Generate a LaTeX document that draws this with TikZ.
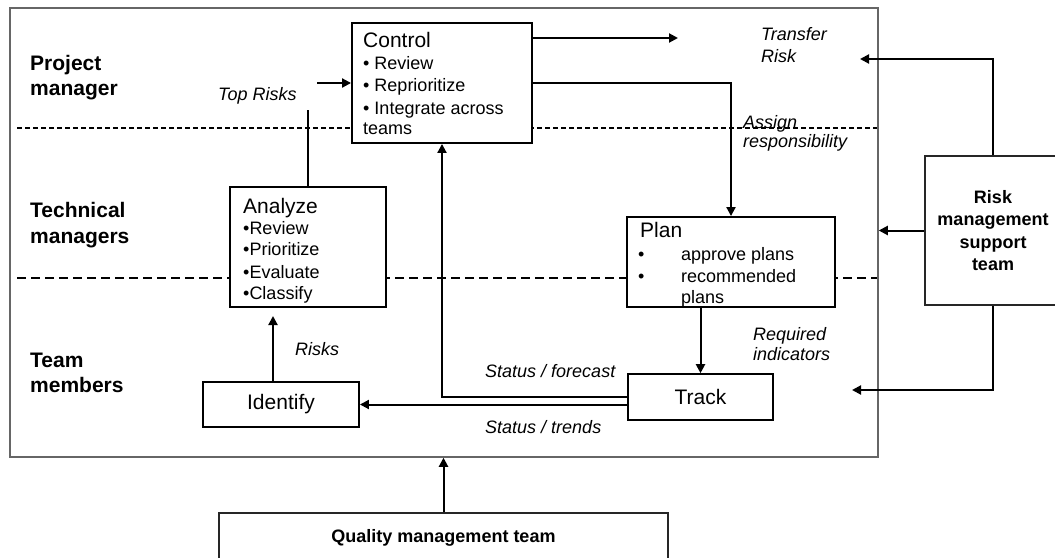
\documentclass[tikz,border=0pt]{standalone}
\usepackage{fontspec}
\setmainfont{Liberation Sans}
\usetikzlibrary{arrows.meta,calc}
\begin{document}
\begin{tikzpicture}[x=1pt,y=-1pt,
  box/.style={draw, line width=1.9pt, fill=white, inner sep=0pt},
  team/.style={draw=black!85, line width=1.2pt, fill=white, inner sep=0pt, font=\fontsize{18}{22.3}\selectfont\bfseries, align=center},
  txt/.style={anchor=base west, inner sep=0pt},
  ttl/.style={txt, font=\fontsize{21}{25}\selectfont},
  itm/.style={txt, font=\fontsize{18}{22}\selectfont},
  lbl/.style={txt, font=\fontsize{18}{22}\selectfont\itshape},
  lane/.style={txt, font=\fontsize{21}{26}\selectfont\bfseries},
  conn/.style={line width=2pt, -{Triangle[length=9pt,width=9pt]}},
  plainline/.style={line width=2pt},
  sep1/.style={line width=1.5pt, dash pattern=on 5pt off 3pt},
  sep2/.style={line width=1.5pt, dash pattern=on 9pt off 5pt},
  ]
\useasboundingbox (0,0) rectangle (1055,557);
% main frame
\node[draw=black!60, line width=1.5pt, minimum width=868pt, minimum height=449pt, inner sep=0pt] (main) at (444,232.5) {};
% lane separators
\draw[sep1] (17,128) -- (877,128);
\draw[sep2] (17,278) -- (877,278);
% lane labels
\node[lane] (l1a) at (30,70) {Project};
\node[lane] (l1b) at (30,95) {manager};
\node[lane] (l2a) at (30,217) {Technical};
\node[lane] (l2b) at (30,243) {managers};
\node[lane] (l3a) at (30,367) {Team};
\node[lane] (l3b) at (30,392) {members};
% boxes
\node[box, minimum width=180pt, minimum height=120pt] (control) at (442,83) {};
\node[box, minimum width=156pt, minimum height=120pt] (analyze) at (308,247) {};
\node[box, minimum width=208pt, minimum height=90pt] (plan) at (731,262) {};
\node[box, line width=1.6pt, minimum width=145pt, minimum height=46pt, font=\fontsize{21}{25}\selectfont] (track) at (700.5,397) {Track};
\node[box, minimum width=156pt, minimum height=45pt, font=\fontsize{21}{25}\selectfont] (identify) at (281,404.5) {Identify};
\node[team, minimum width=136pt, minimum height=149pt] (rmst) at (993,230.5) {Risk\\management\\support\\team};
\node[team, minimum width=449pt, minimum height=50pt] (qmt) at (443.5,538) {Quality management team};
% box texts
\node[ttl] (ct0) at (363,47) {Control};
\node[itm] (ct1) at (363,69) {• Review};
\node[itm] (ct2) at (363,91) {• Reprioritize};
\node[itm] (ct3) at (363,114) {• Integrate across};
\node[itm] (ct4) at (363,134) {teams};
\node[ttl] (at0) at (243,213) {Analyze};
\node[itm] (at1) at (243,234) {•Review};
\node[itm] (at2) at (243,255) {•Prioritize};
\node[itm] (at3) at (243,278) {•Evaluate};
\node[itm] (at4) at (243,299) {•Classify};
\node[ttl] (pt0) at (640,237) {Plan};
\node[itm] (pb1) at (638,260) {•};
\node[itm] (pb2) at (638,282) {•};
\node[itm] (pt1) at (681,260) {approve plans};
\node[itm] (pt2) at (681,282) {recommended};
\node[itm] (pt3) at (681,303) {plans};
% labels
\node[lbl] (toprisks) at (218,100) {Top Risks};
\node[lbl] (xfer1) at (761,40) {Transfer};
\node[lbl] (xfer2) at (761,62) {Risk};
\node[lbl] (assign1) at (743,128) {Assign};
\node[lbl] (assign2) at (743,147) {responsibility};
\node[lbl] (risks) at (295,355) {Risks};
\node[lbl] (stfc) at (485,377) {Status / forecast};
\node[lbl] (sttr) at (485,433) {Status / trends};
\node[lbl] (req1) at (753,340) {Required};
\node[lbl] (req2) at (753,360) {indicators};
% free ends
\coordinate (topRiskEnd) at (307,110);
\coordinate (topRiskStart) at (317,83);
\coordinate (xferEnd) at (678,38);
\coordinate (trTip) at (860,59);
\coordinate (riskTip) at (273,316);
\coordinate (trackIn) at (852,390);
% connectors
\draw[plainline] (analyze.north) -- (analyze.north |- topRiskEnd);
\draw[conn] (topRiskStart) -- (topRiskStart -| control.west);
\draw[conn] (control.east |- xferEnd) -- (xferEnd);
\draw[conn] (control.east) -| (plan.north);
\draw[conn] (plan.south -| track.north) -- (track.north);
\draw[conn] (track.west) -| (control.south);
\draw[conn] (track.west |- identify.east) -- (identify.east);
\draw[conn] (identify.north -| riskTip) -- (riskTip);
\draw[conn] (rmst.north) |- (trTip);
\draw[conn] (rmst.west) -- (rmst.west -| main.east);
\draw[conn] (rmst.south) |- (trackIn);
\draw[conn] (qmt.north) -- (qmt.north |- main.south);
\end{tikzpicture}
\end{document}
